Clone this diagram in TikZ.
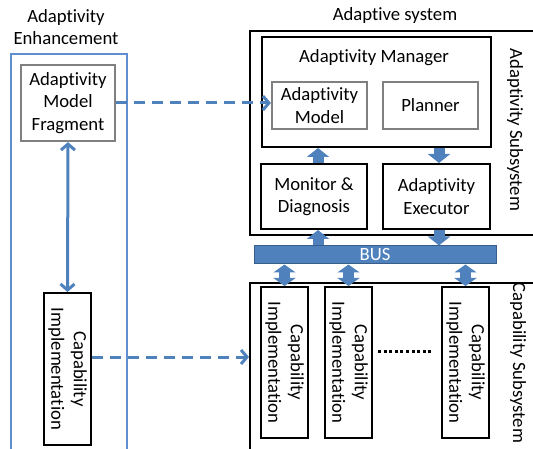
\documentclass[tikz,border=0pt]{standalone}
\usepackage{fontspec}
\setmainfont{Carlito}[Ligatures={NoCommon,NoRequired,NoContextual},Contextuals=NoAlternate]
\usetikzlibrary{arrows.meta,calc}
\definecolor{bluearrow}{RGB}{79,129,189}
\definecolor{frameblue}{RGB}{95,143,206}
\definecolor{busedge}{RGB}{56,93,138}
\definecolor{boxgray}{RGB}{128,128,128}
\begin{document}
\begin{tikzpicture}[x=1pt,y=-1pt,
  font=\fontsize{18.7}{22.5}\selectfont,
  container/.style={draw=black, line width=2pt, anchor=north west, inner sep=0pt},
  blackbox/.style={draw=black, line width=2pt, inner sep=1pt, align=center},
  graybox/.style={draw=boxgray, line width=2.2pt, inner sep=1pt, align=center},
  vbox/.style={blackbox, rotate=-90},
  vtext/.style={rotate=-90, align=center, inner sep=0pt},
  blk/.style={draw=bluearrow, line width=11pt, -{Triangle[width=22pt,length=9pt]}},
  dblblk/.style={draw=bluearrow, line width=11pt, {Triangle[width=22pt,length=8pt]}-{Triangle[width=22pt,length=8pt]}},
  dasharrow/.style={draw=bluearrow, line width=3pt, dash pattern=on 11pt off 7pt, -{Straight Barb[length=6pt,width=14pt]}},
  thinarrow/.style={draw=bluearrow, line width=3pt, {Straight Barb[length=6pt,width=14pt]}-{Straight Barb[length=6pt,width=14pt]}},
  dotline/.style={draw=black, line width=3pt, dash pattern=on 3pt off 2.6pt}]
\useasboundingbox (0,0) rectangle (533,449);
\clip (0,0) rectangle (533,449);

% left: adaptivity enhancement
\node[align=center] (enhtitle) at (66,27) {Adaptivity\\Enhancement};
\node[draw=frameblue, line width=1.6pt, anchor=north west, minimum width=116pt, minimum height=420pt] (enh) at (10,53) {};
\node[graybox, minimum width=94pt, minimum height=76pt] (frag) at (68,103) {Adaptivity\\Model\\Fragment};
\node[vbox, minimum width=152pt, minimum height=47pt] (capL) at (67.5,369) {Capability\\Implementation};

% right: adaptive system
\node (astitle) at (395,16) {Adaptive system};
\node[container, minimum width=300pt, minimum height=204pt] (asub) at (249,30) {};
\node[vtext] (asublabel) at (515,130) {Adaptivity Subsystem};
\node[container, minimum width=229pt, minimum height=110pt] (mgr) at (261,36) {};
\node (mgrtitle) at (374,58) {Adaptivity Manager};
\node[graybox, minimum width=95pt, minimum height=47pt] (amodel) at (319.5,105.5) {Adaptivity\\Model};
\node[graybox, minimum width=95pt, minimum height=47pt] (planner) at (430.5,105.5) {Planner};
\node[blackbox, minimum width=106pt, minimum height=65pt] (monitor) at (314,196.5) {Monitor \&\\Diagnosis};
\node[blackbox, minimum width=107pt, minimum height=65pt] (executor) at (436.5,196.5) {Adaptivity\\Executor};

\node[draw=busedge, fill=bluearrow, line width=1pt, text=white, minimum width=242pt, minimum height=18pt, inner sep=0pt] (bus) at (375,255) {BUS};

\node[container, minimum width=300pt, minimum height=200pt] (csub) at (249,282) {};
\node[vtext] (csublabel) at (518,363) {Capability Subsystem};
\node[vbox, minimum width=151pt, minimum height=47pt] (cap1) at (284.5,362.5) {Capability\\Implementation};
\node[vbox, minimum width=151pt, minimum height=47pt] (cap2) at (348.5,362.5) {Capability\\Implementation};
\node[vbox, minimum width=151pt, minimum height=47pt] (cap3) at (465.5,362.5) {Capability\\Implementation};
\coordinate (d1) at (378,351);
\coordinate (d2) at (432,351);
\draw[dotline] (d1) -- (d2);

% block arrows
\coordinate (xa) at (318,0);
\coordinate (xb) at (439,0);
\draw[blk] (xa |- monitor.north) -- (xa |- mgr.south);
\draw[blk] (xb |- mgr.south) -- (xb |- executor.north);
\draw[blk] (xa |- bus.north) -- (xa |- monitor.south);
\draw[blk] (xb |- executor.south) -- (xb |- bus.north);
\draw[dblblk] (bus.south -| cap1.west) -- (cap1.west);
\draw[dblblk] (bus.south -| cap2.west) -- (cap2.west);
\draw[dblblk] (bus.south -| cap3.west) -- (cap3.west);

% blue connectors
\draw[thinarrow] (frag.south) -- (capL.west);
\draw[dasharrow] (frag.east) -- (frag.east -| amodel.west);
\coordinate (cd) at ($(capL.north)+(0,-12)$);
\draw[dasharrow] (cd) -- (cd -| csub.west);
\end{tikzpicture}
\end{document}
